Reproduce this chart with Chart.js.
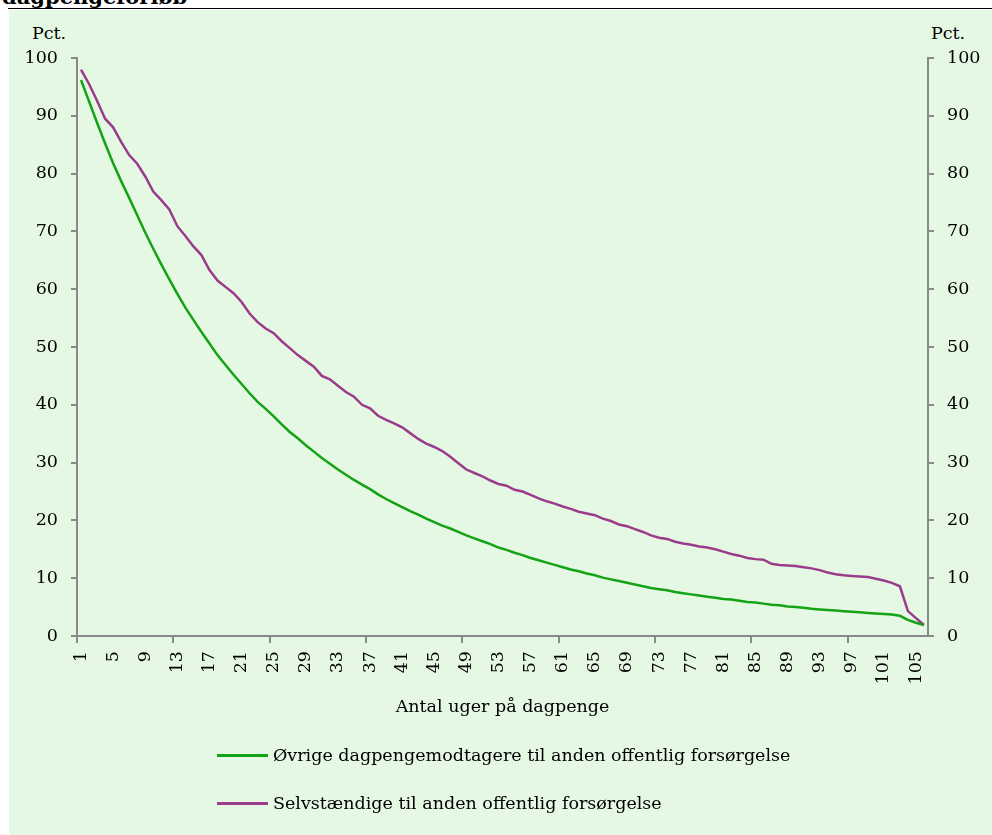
<!DOCTYPE html>
<html lang="da">
<head>
<meta charset="utf-8">
<title>Dagpengeforløb</title>
<script src="https://cdn.jsdelivr.net/npm/chart.js@4.4.1/dist/chart.umd.min.js"></script>
<style>
    html, body { margin: 0; padding: 0; background: #fff; }
    body { width: 992px; height: 835px; position: relative; overflow: hidden; font-family: "DejaVu Serif", serif; color: #000; }
    .titel { position: absolute; left: 2px; top: -14px; font-size: 21px; font-weight: bold; line-height: 21px; white-space: nowrap; }
    .streg { position: absolute; left: 8px; right: 0; top: 8px; border-top: 1.5px solid #000; }
    .baggrund { position: absolute; left: 9px; top: 10px; right: 0; bottom: 0; background: #e5f8e4; }
    #graf { position: absolute; left: 0; top: 0; }
    .enhed { position: absolute; top: 23px; font-size: 17.5px; line-height: 20px; }
    .legende { position: absolute; left: 217px; font-size: 17.5px; line-height: 20px; }
    .legende-punkt { display: flex; align-items: center; height: 20px; margin-bottom: 28px; white-space: nowrap; }
    .legende-linje { width: 51px; height: 0; border-top: 3px solid; margin-right: 5px; }
</style>
</head>
<body>
<div class="baggrund"></div>
<div class="titel">dagpengeforløb</div>
<div class="streg"></div>
<div class="enhed" style="left: 32px;">Pct.</div>
<div class="enhed" style="left: 931px;">Pct.</div>
<canvas id="graf" width="992" height="835"></canvas>
<div class="legende" id="legende" style="top: 745px;"></div>

<script>
// Uger på dagpenge (kategorier)
const uger = [
    1, 2, 3, 4, 5, 6, 7, 8, 9, 10, 11, 12, 13, 14, 15, 16, 17, 18, 19, 20,
    21, 22, 23, 24, 25, 26, 27, 28, 29, 30, 31, 32, 33, 34, 35, 36, 37, 38, 39, 40,
    41, 42, 43, 44, 45, 46, 47, 48, 49, 50, 51, 52, 53, 54, 55, 56, 57, 58, 59, 60,
    61, 62, 63, 64, 65, 66, 67, 68, 69, 70, 71, 72, 73, 74, 75, 76, 77, 78, 79, 80,
    81, 82, 83, 84, 85, 86, 87, 88, 89, 90, 91, 92, 93, 94, 95, 96, 97, 98, 99, 100,
    101, 102, 103, 104, 105, 106
];

// Øvrige dagpengemodtagere (pct.)
const oevrige = [
    96.2, 92.5, 88.8, 85.2, 81.8, 78.7, 75.8, 72.8, 69.8, 67.0,
    64.3, 61.7, 59.2, 56.8, 54.7, 52.6, 50.6, 48.6, 46.9, 45.2,
    43.6, 42.0, 40.5, 39.3, 38.0, 36.6, 35.3, 34.2, 33.0, 31.9,
    30.8, 29.8, 28.8, 27.9, 27.0, 26.2, 25.4, 24.5, 23.7, 23.0,
    22.3, 21.6, 21.0, 20.3, 19.7, 19.1, 18.6, 18.0, 17.4, 16.9,
    16.4, 15.9, 15.3, 14.9, 14.4, 14.0, 13.5, 13.1, 12.7, 12.3,
    11.9, 11.5, 11.2, 10.8, 10.5, 10.1, 9.8, 9.5, 9.2, 8.9,
    8.6, 8.3, 8.1, 7.9, 7.6, 7.4, 7.2, 7.0, 6.8, 6.6,
    6.4, 6.3, 6.1, 5.9, 5.8, 5.6, 5.4, 5.3, 5.1, 5.0,
    4.9, 4.7, 4.6, 4.5, 4.4, 4.3, 4.2, 4.1, 4.0, 3.9,
    3.8, 3.7, 3.5, 2.8, 2.3, 1.9
];

// Selvstændige (pct.)
const selvstaendige = [
    98.0, 95.5, 92.6, 89.5, 88.0, 85.5, 83.2, 81.7, 79.5, 76.9,
    75.4, 73.8, 70.9, 69.2, 67.4, 65.9, 63.3, 61.5, 60.4, 59.3,
    57.8, 55.8, 54.3, 53.2, 52.4, 51.0, 49.8, 48.6, 47.6, 46.6,
    45.0, 44.4, 43.3, 42.2, 41.4, 40.0, 39.4, 38.1, 37.4, 36.8,
    36.1, 35.1, 34.1, 33.3, 32.7, 32.0, 31.0, 29.9, 28.8, 28.2,
    27.6, 26.9, 26.3, 26.0, 25.3, 25.0, 24.4, 23.8, 23.3, 22.9,
    22.4, 22.0, 21.5, 21.2, 20.9, 20.3, 19.9, 19.3, 19.0, 18.5,
    18.0, 17.4, 17.0, 16.8, 16.3, 16.0, 15.8, 15.5, 15.3, 15.0,
    14.6, 14.2, 13.9, 13.5, 13.3, 13.2, 12.5, 12.3, 12.2, 12.1,
    11.9, 11.7, 11.4, 11.0, 10.7, 10.5, 10.4, 10.3, 10.2, 9.9,
    9.6, 9.2, 8.6, 4.3, 3.1, 1.9
];

const yTicks = [0, 10, 20, 30, 40, 50, 60, 70, 80, 90, 100];

const serieNavne = [
    'Øvrige dagpengemodtagere til anden offentlig forsørgelse',
    'Selvstændige til anden offentlig forsørgelse'
];
const serieFarver = ['#14a314', '#9a3c8b'];

const graa = '#8a8a8a';
const skrift = { family: '"DejaVu Serif", serif', size: 17.5 };

function lavYAkse(position, bredde) {
    return {
        type: 'linear',
        position: position,
        min: yTicks[0],
        max: yTicks[yTicks.length - 1],
        afterBuildTicks: function(scale) {
            scale.ticks = yTicks.map(v => ({ value: v }));
        },
        afterFit: function(scale) {
            scale.width = bredde;
        },
        border: { display: true, color: graa, width: 2 },
        grid: {
            drawOnChartArea: false,
            drawTicks: true,
            tickLength: 6,
            color: graa,
            lineWidth: 2
        },
        ticks: {
            color: '#000',
            font: skrift,
            padding: 13
        }
    };
}

function lavGraf() {
    const ctx = document.getElementById('graf');

    return new Chart(ctx, {
        type: 'line',
        data: {
            labels: uger,
            datasets: [
                {
                    label: serieNavne[0],
                    data: oevrige,
                    borderColor: serieFarver[0],
                    borderWidth: 2.5,
                    pointRadius: 0,
                    tension: 0,
                    fill: false,
                    yAxisID: 'y'
                },
                {
                    label: serieNavne[1],
                    data: selvstaendige,
                    borderColor: serieFarver[1],
                    borderWidth: 2.5,
                    pointRadius: 0,
                    tension: 0,
                    fill: false,
                    yAxisID: 'y'
                }
            ]
        },
        options: {
            responsive: false,
            animation: false,
            layout: {
                padding: { top: 58, bottom: 117, left: 0, right: 0 }
            },
            scales: {
                x: {
                    type: 'category',
                    offset: true,
                    afterFit: function(scale) {
                        scale.height = 82;
                    },
                    border: { display: true, color: graa, width: 2 },
                    grid: {
                        offset: true,
                        drawOnChartArea: false,
                        drawTicks: true,
                        tickLength: 7,
                        lineWidth: 2,
                        color: graa,
                        tickColor: function(c) {
                            return c.index % 12 === 0 ? graa : 'rgba(0,0,0,0)';
                        }
                    },
                    ticks: {
                        autoSkip: false,
                        maxRotation: 90,
                        minRotation: 90,
                        padding: 8,
                        color: '#000',
                        font: skrift,
                        callback: function(value, index) {
                            return index % 4 === 0 ? this.getLabelForValue(value) : '';
                        }
                    },
                    title: {
                        display: true,
                        text: 'Antal uger på dagpenge',
                        color: '#000',
                        font: skrift,
                        padding: 0
                    }
                },
                y: lavYAkse('left', 77),
                y1: lavYAkse('right', 64)
            },
            plugins: {
                legend: { display: false },
                tooltip: { enabled: false }
            }
        }
    });
}

// Legende som almindelig tekst under grafen
function lavLegende(graf) {
    const boks = document.getElementById('legende');
    graf.data.datasets.forEach(function(ds) {
        const punkt = document.createElement('div');
        punkt.className = 'legende-punkt';
        const linje = document.createElement('span');
        linje.className = 'legende-linje';
        linje.style.borderColor = ds.borderColor;
        const tekst = document.createElement('span');
        tekst.textContent = ds.label;
        punkt.appendChild(linje);
        punkt.appendChild(tekst);
        boks.appendChild(punkt);
    });
}

const graf = lavGraf();
lavLegende(graf);
</script>
</body>
</html>
